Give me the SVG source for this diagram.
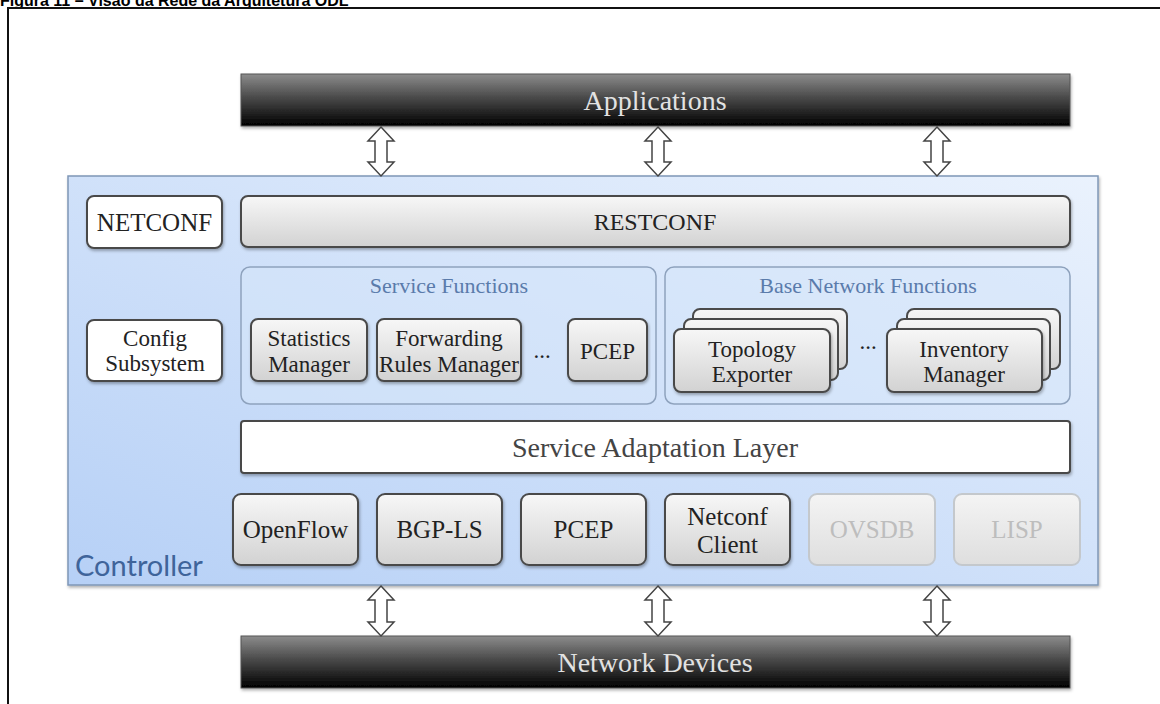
<svg xmlns="http://www.w3.org/2000/svg" width="1160" height="704" viewBox="0 0 1160 704">
  <defs>
    <linearGradient id="darkBar" x1="0" y1="0" x2="0" y2="1">
      <stop offset="0" stop-color="#8c8c8c"/>
      <stop offset="0.45" stop-color="#4a4a4a"/>
      <stop offset="1" stop-color="#000"/>
    </linearGradient>
    <linearGradient id="grayBox" x1="0" y1="0" x2="0" y2="1">
      <stop offset="0" stop-color="#f7f7f7"/>
      <stop offset="1" stop-color="#d2d2d2"/>
    </linearGradient>
    <linearGradient id="fadedBox" x1="0" y1="0" x2="0" y2="1">
      <stop offset="0" stop-color="#f4f4f4"/>
      <stop offset="1" stop-color="#dedede"/>
    </linearGradient>
    <linearGradient id="ctrlFill" x1="1" y1="0" x2="0" y2="1">
      <stop offset="0" stop-color="#eaf2fd"/>
      <stop offset="1" stop-color="#b6d0f6"/>
    </linearGradient>
    <filter id="shadow" x="-5%" y="-5%" width="110%" height="120%">
      <feDropShadow dx="1" dy="2" stdDeviation="1.5" flood-color="#000" flood-opacity="0.3"/>
    </filter>
  </defs>
  <style>
    .serif { font-family: "Liberation Serif", "Times New Roman", serif; }
    .bar { fill: url(#darkBar); stroke: #555; stroke-width: 1; }
    .barText { fill: #e2e2e2; font-size: 28px; text-anchor: middle; }
    .box { fill: url(#grayBox); stroke: #4a4a4a; stroke-width: 2; }
    .whiteBox { fill: #fff; stroke: #4a4a4a; stroke-width: 2; }
    .faded { fill: url(#fadedBox); stroke: #c4c8cc; stroke-width: 2; }
    .group { fill: #d6e5fa; fill-opacity: 0.55; stroke: #8ea2bd; stroke-width: 1.5; }
    .label { fill: #222; font-size: 25px; text-anchor: middle; }
    .small { fill: #222; font-size: 23px; text-anchor: middle; }
    .groupTitle { fill: #5a7bab; font-size: 22px; text-anchor: middle; }
    .fadedText { fill: #bdbdbd; font-size: 25px; text-anchor: middle; }
    .arrow { fill: #fff; stroke: #444; stroke-width: 1.5; stroke-linejoin: miter; }
  </style>

  <!-- caption, clipped at the top edge -->
  <text x="0" y="6" font-family="Liberation Sans, Arial, sans-serif" font-size="16" font-weight="bold" fill="#000">Figura 11 – Visão da Rede da Arquitetura ODL</text>
  <!-- frame -->
  <path d="M8 704 V8 H1160" fill="none" stroke="#111" stroke-width="2"/>

  <!-- applications layer -->
  <g id="applications">
    <rect class="bar" x="241" y="74" width="829" height="52" filter="url(#shadow)"/>
    <text class="serif barText" x="655" y="110">Applications</text>
  </g>

  <!-- controller container -->
  <g id="controller">
    <rect x="68" y="176" width="1030" height="409" fill="url(#ctrlFill)" stroke="#7f97b6" stroke-width="1.5" filter="url(#shadow)"/>
    <text x="75" y="576" font-family="Lato, 'Open Sans', sans-serif" font-size="29" fill="#3f649a">Controller</text>
  </g>

  <g id="netconf">
    <rect class="whiteBox" x="87" y="196" width="135" height="52" rx="7" filter="url(#shadow)"/>
    <text class="serif label" x="154.5" y="231">NETCONF</text>
  </g>

  <g id="restconf">
    <rect class="box" x="241" y="196" width="829" height="51" rx="7" filter="url(#shadow)"/>
    <text class="serif" x="655" y="230" font-size="24" fill="#222" text-anchor="middle">RESTCONF</text>
  </g>

  <g id="config-subsystem">
    <rect class="whiteBox" x="87" y="320" width="135" height="61" rx="7" filter="url(#shadow)"/>
    <text class="serif small" x="155" y="346">Config</text>
    <text class="serif small" x="155" y="371">Subsystem</text>
  </g>

  <!-- service functions -->
  <g id="service-functions">
    <rect class="group" x="241" y="267" width="415" height="137" rx="9"/>
    <text class="serif groupTitle" x="449" y="293">Service Functions</text>
  </g>
  <g id="statistics-manager">
    <rect class="box" x="251" y="319" width="116" height="62" rx="7" filter="url(#shadow)"/>
    <text class="serif small" x="309" y="346">Statistics</text>
    <text class="serif small" x="309" y="372">Manager</text>
  </g>
  <g id="forwarding-rules-manager">
    <rect class="box" x="377" y="319" width="144" height="62" rx="7" filter="url(#shadow)"/>
    <text class="serif small" x="449" y="346">Forwarding</text>
    <text class="serif small" x="449" y="372">Rules Manager</text>
  </g>
  <text class="serif small" x="542" y="358" fill="#444">...</text>
  <g id="pcep-service">
    <rect class="box" x="568" y="319" width="79" height="62" rx="7" filter="url(#shadow)"/>
    <text class="serif small" x="607.5" y="359">PCEP</text>
  </g>

  <!-- base network functions -->
  <g id="base-network-functions">
    <rect class="group" x="665" y="267" width="405" height="137" rx="9"/>
    <text class="serif groupTitle" x="868" y="293">Base Network Functions</text>
  </g>
  <g id="topology-exporter">
    <rect class="box" x="693" y="309" width="154" height="60" rx="7"/>
    <rect class="box" x="684" y="319" width="154" height="61" rx="7"/>
    <rect class="box" x="674" y="329" width="156" height="63" rx="7" filter="url(#shadow)"/>
    <text class="serif small" x="752" y="357">Topology</text>
    <text class="serif small" x="752" y="382">Exporter</text>
  </g>
  <text class="serif small" x="868" y="349" fill="#444">...</text>
  <g id="inventory-manager">
    <rect class="box" x="907" y="309" width="153" height="60" rx="7"/>
    <rect class="box" x="897" y="319" width="153" height="61" rx="7"/>
    <rect class="box" x="887" y="329" width="155" height="63" rx="7" filter="url(#shadow)"/>
    <text class="serif small" x="964" y="357">Inventory</text>
    <text class="serif small" x="964" y="382">Manager</text>
  </g>

  <g id="service-adaptation-layer">
    <rect class="whiteBox" x="241" y="421" width="829" height="52" rx="3" filter="url(#shadow)"/>
    <text class="serif" x="655" y="457" font-size="28" fill="#444" text-anchor="middle">Service Adaptation Layer</text>
  </g>

  <!-- southbound plugins -->
  <g id="openflow">
    <rect class="box" x="233" y="494" width="125" height="71" rx="8" filter="url(#shadow)"/>
    <text class="serif label" x="295.5" y="538">OpenFlow</text>
  </g>
  <g id="bgp-ls">
    <rect class="box" x="377" y="494" width="125" height="71" rx="8" filter="url(#shadow)"/>
    <text class="serif label" x="439.5" y="538">BGP-LS</text>
  </g>
  <g id="pcep">
    <rect class="box" x="521" y="494" width="125" height="71" rx="8" filter="url(#shadow)"/>
    <text class="serif label" x="583.5" y="538">PCEP</text>
  </g>
  <g id="netconf-client">
    <rect class="box" x="665" y="494" width="125" height="71" rx="8" filter="url(#shadow)"/>
    <text class="serif label" x="727.5" y="525">Netconf</text>
    <text class="serif label" x="727.5" y="553">Client</text>
  </g>
  <g id="ovsdb">
    <rect class="faded" x="809" y="494" width="126" height="71" rx="8"/>
    <text class="serif fadedText" x="872" y="538">OVSDB</text>
  </g>
  <g id="lisp">
    <rect class="faded" x="954" y="494" width="126" height="71" rx="8"/>
    <text class="serif fadedText" x="1017" y="538">LISP</text>
  </g>

  <!-- network devices layer -->
  <g id="network-devices">
    <rect class="bar" x="241" y="636" width="829" height="52" filter="url(#shadow)"/>
    <text class="serif barText" x="655" y="672">Network Devices</text>
  </g>

  <!-- connectors: hollow double-headed arrows -->
  <g id="connectors">
    <path class="arrow" d="M381 127 L394 141 L387 141 L387 162 L394 162 L381 176 L368 162 L375 162 L375 141 L368 141 Z"/>
    <path class="arrow" d="M658 127 L671 141 L664 141 L664 162 L671 162 L658 176 L645 162 L652 162 L652 141 L645 141 Z"/>
    <path class="arrow" d="M937 127 L950 141 L943 141 L943 162 L950 162 L937 176 L924 162 L931 162 L931 141 L924 141 Z"/>
    <path class="arrow" d="M381 586 L394 600 L387 600 L387 622 L394 622 L381 636 L368 622 L375 622 L375 600 L368 600 Z"/>
    <path class="arrow" d="M658 586 L671 600 L664 600 L664 622 L671 622 L658 636 L645 622 L652 622 L652 600 L645 600 Z"/>
    <path class="arrow" d="M937 586 L950 600 L943 600 L943 622 L950 622 L937 636 L924 622 L931 622 L931 600 L924 600 Z"/>
  </g>
</svg>
